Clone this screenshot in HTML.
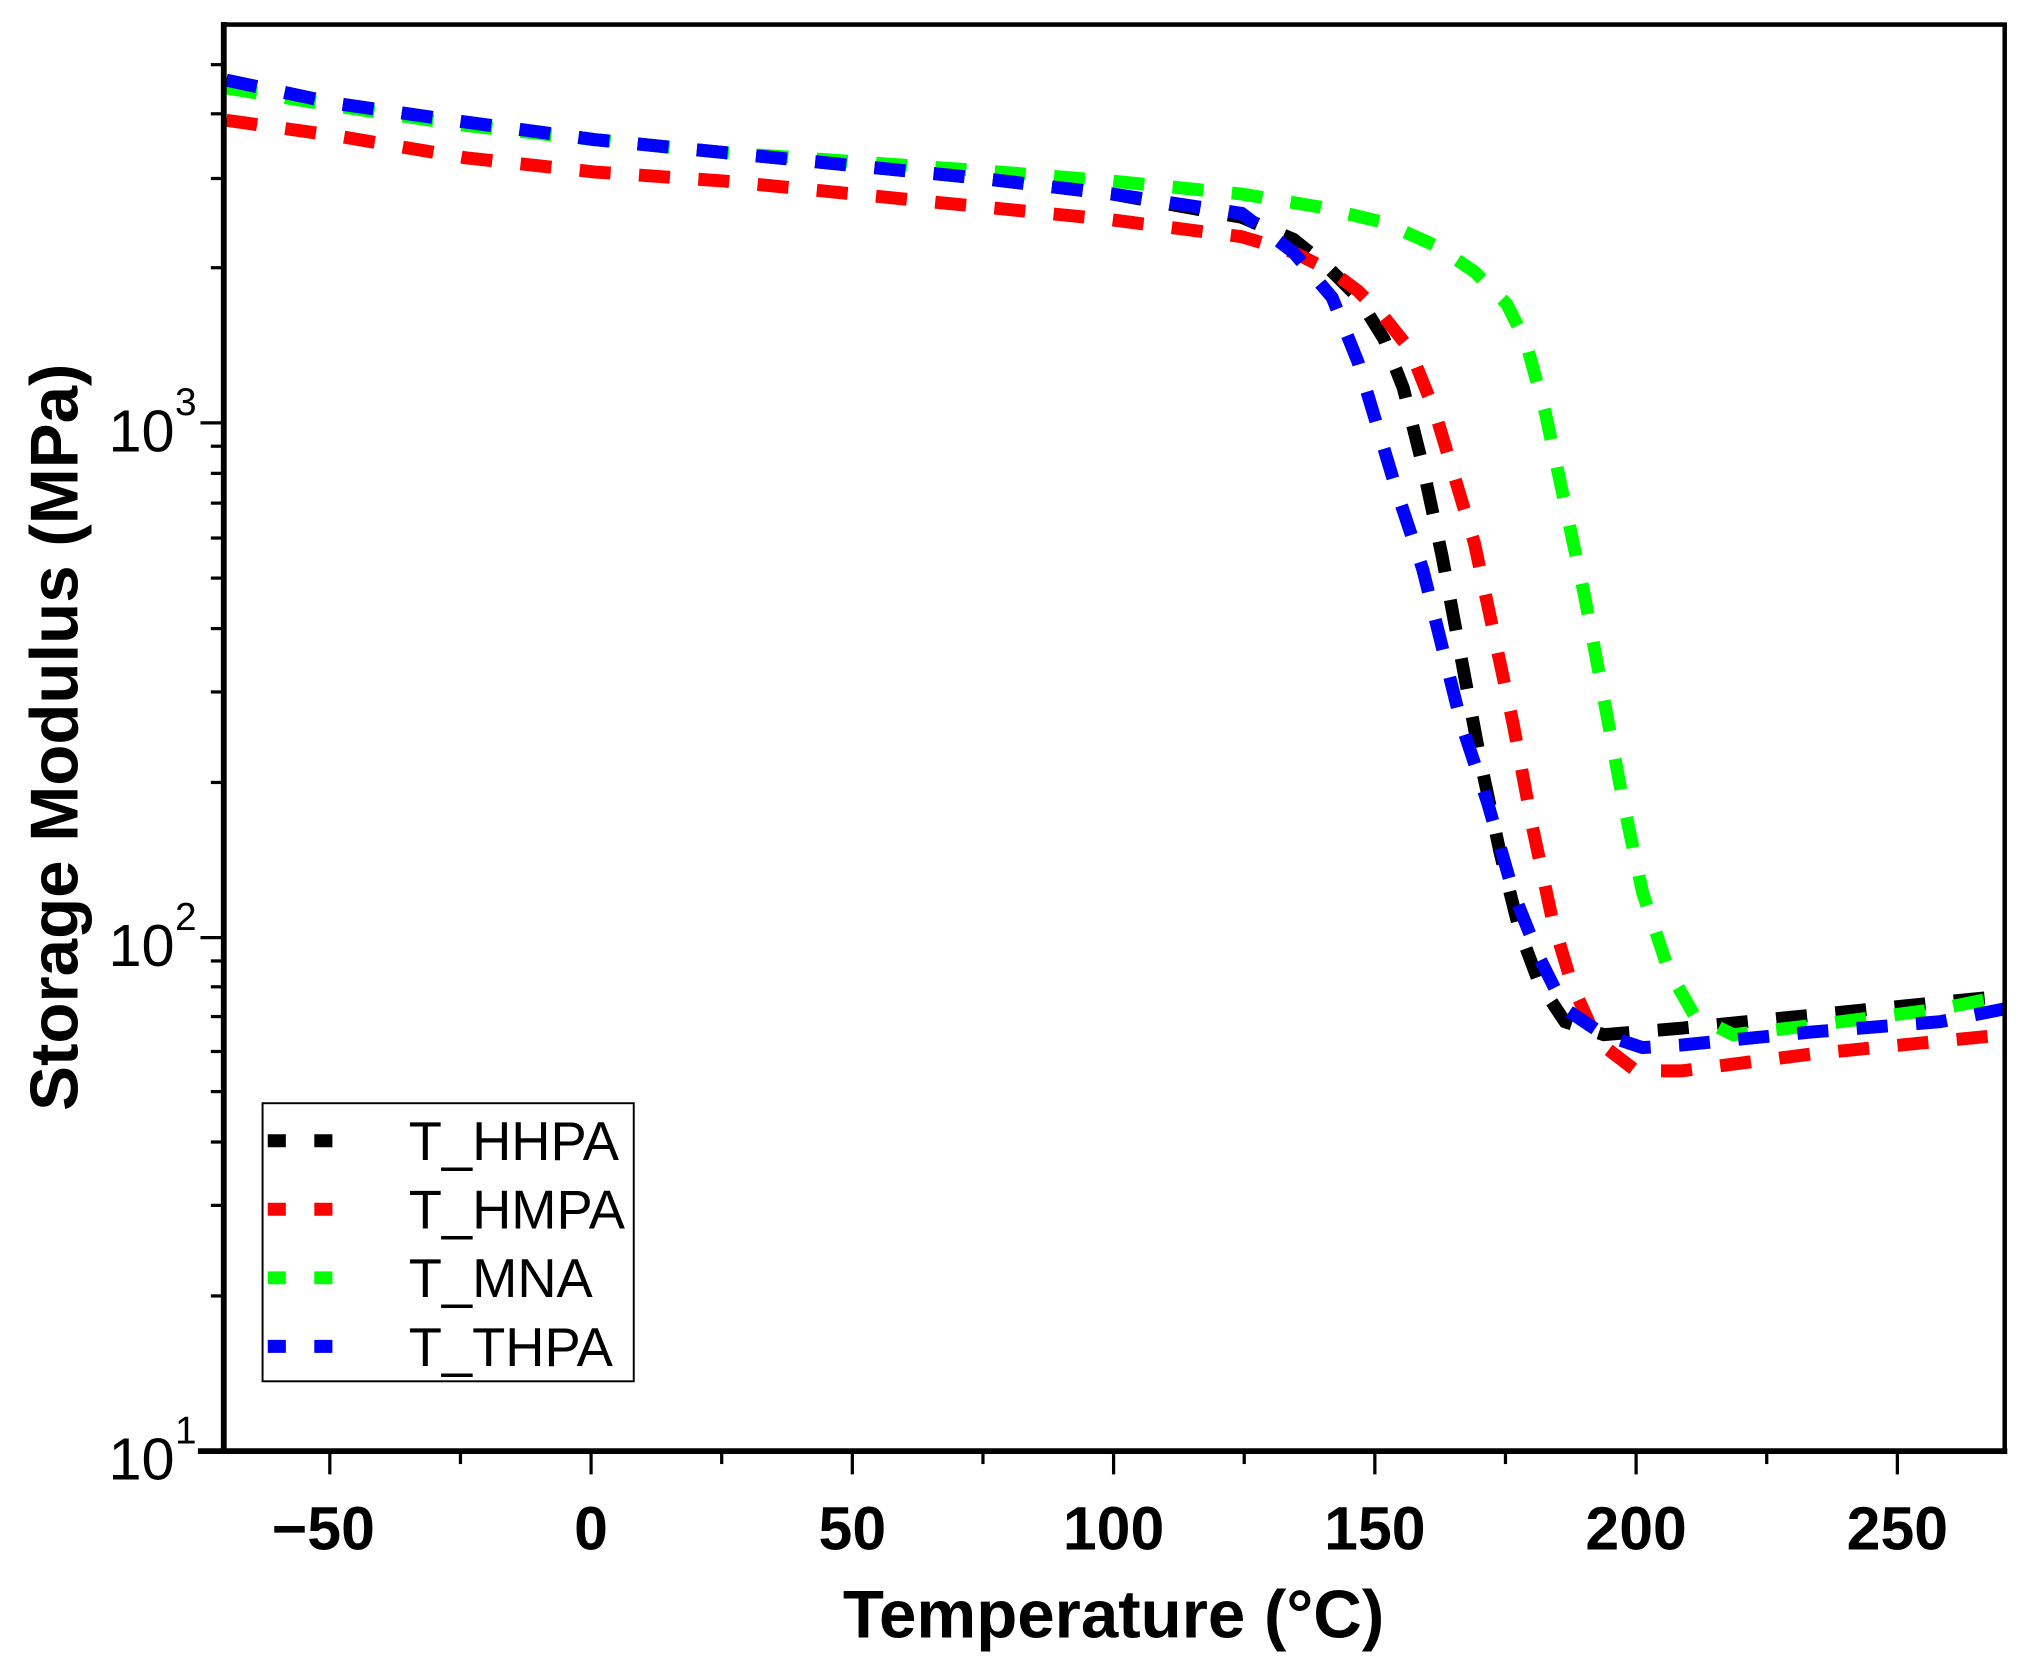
<!DOCTYPE html>
<html><head><meta charset="utf-8"><style>html,body{margin:0;padding:0;background:#fff}svg{display:block}</style></head>
<body>
<svg width="2028" height="1671" viewBox="0 0 1568 1292" xmlns="http://www.w3.org/2000/svg" font-family="Liberation Sans, Arial, sans-serif">
<rect width="1568" height="1292" fill="#fff"/>
<g fill="none" stroke-width="10" stroke-dasharray="24 22">
<polyline stroke="#000" points="175,62 260,80 350,93 460,108 560,118 660,128 760,138 860,150 960,168 1000,185 1025,205 1050,230 1070,262 1085,300 1100,360 1115,430 1130,510 1145,590 1160,660 1175,720 1190,760 1210,790 1240,800 1300,795 1400,785 1500,775 1550,770"/>
<polyline stroke="#f00" points="175,93 260,105 360,122 460,133 560,140 660,150 760,160 860,170 960,183 1000,195 1030,210 1050,225 1070,245 1090,270 1110,320 1125,370 1140,420 1155,490 1170,560 1185,640 1200,710 1215,760 1235,805 1265,828 1300,828 1400,815 1500,805 1550,800"/>
<polyline stroke="#0f0" points="175,68 260,82 360,97 460,108 560,118 660,125 760,132 860,140 960,150 1020,160 1070,172 1110,190 1140,210 1165,235 1180,265 1195,320 1210,390 1225,460 1240,540 1255,620 1270,690 1290,750 1310,785 1340,800 1400,793 1500,780 1550,770"/>
<polyline stroke="#00f" points="175,62 260,80 350,93 460,108 560,118 660,128 760,138 860,150 960,165 1000,195 1030,230 1050,280 1065,330 1080,380 1100,440 1115,500 1130,560 1150,620 1170,690 1190,740 1210,780 1240,800 1270,810 1300,808 1400,798 1500,790 1550,780"/>
</g>
<rect x="173" y="19" width="1377" height="1103" fill="none" stroke="#000" stroke-width="3.5"/>
<line x1="173" y1="17" x2="173" y2="1124" stroke="#000" stroke-width="4.5"/>
<line x1="153" y1="1122" x2="1552" y2="1122" stroke="#000" stroke-width="4.5"/>
<g stroke="#000" stroke-width="2.5">
<line x1="255" y1="1122" x2="255" y2="1140"/><line x1="457" y1="1122" x2="457" y2="1140"/><line x1="659" y1="1122" x2="659" y2="1140"/><line x1="861" y1="1122" x2="861" y2="1140"/><line x1="1063" y1="1122" x2="1063" y2="1140"/><line x1="1265" y1="1122" x2="1265" y2="1140"/><line x1="1467" y1="1122" x2="1467" y2="1140"/>
<line x1="356" y1="1122" x2="356" y2="1132"/><line x1="558" y1="1122" x2="558" y2="1132"/><line x1="760" y1="1122" x2="760" y2="1132"/><line x1="962" y1="1122" x2="962" y2="1132"/><line x1="1164" y1="1122" x2="1164" y2="1132"/><line x1="1366" y1="1122" x2="1366" y2="1132"/>
<line x1="155" y1="1122" x2="173" y2="1122"/><line x1="155" y1="725" x2="173" y2="725"/><line x1="155" y1="327" x2="173" y2="327"/>
<line x1="163" y1="1002" x2="173" y2="1002"/><line x1="163" y1="932" x2="173" y2="932"/><line x1="163" y1="883" x2="173" y2="883"/><line x1="163" y1="844" x2="173" y2="844"/><line x1="163" y1="813" x2="173" y2="813"/><line x1="163" y1="786" x2="173" y2="786"/><line x1="163" y1="763" x2="173" y2="763"/><line x1="163" y1="743" x2="173" y2="743"/>
<line x1="163" y1="605" x2="173" y2="605"/><line x1="163" y1="535" x2="173" y2="535"/><line x1="163" y1="486" x2="173" y2="486"/><line x1="163" y1="447" x2="173" y2="447"/><line x1="163" y1="416" x2="173" y2="416"/><line x1="163" y1="389" x2="173" y2="389"/><line x1="163" y1="366" x2="173" y2="366"/><line x1="163" y1="345" x2="173" y2="345"/>
<line x1="163" y1="207" x2="173" y2="207"/><line x1="163" y1="138" x2="173" y2="138"/><line x1="163" y1="88" x2="173" y2="88"/><line x1="163" y1="50" x2="173" y2="50"/>
</g>
<g font-size="47" font-weight="bold" text-anchor="middle" fill="#000">
<text x="250" y="1198">−50</text><text x="457" y="1198">0</text><text x="659" y="1198">50</text><text x="861" y="1198">100</text><text x="1063" y="1198">150</text><text x="1265" y="1198">200</text><text x="1467" y="1198">250</text>
</g>
<g font-size="46" fill="#000" text-anchor="end">
<text x="135" y="1144">10</text><text x="152" y="1116" font-size="30">1</text>
<text x="135" y="747">10</text><text x="152" y="719" font-size="30">2</text>
<text x="135" y="349">10</text><text x="152" y="321" font-size="30">3</text>
</g>
<text x="861" y="1266" font-size="52" font-weight="bold" text-anchor="middle">Temperature (°C)</text>
<text transform="translate(60,570) rotate(-90)" font-size="52" font-weight="bold" text-anchor="middle">Storage Modulus (MPa)</text>
<rect x="203" y="853" width="287" height="215" fill="#fff" stroke="#000" stroke-width="1.5"/>
<g stroke-width="10" stroke-dasharray="14 22">
<line x1="207" y1="882" x2="275" y2="882" stroke="#000"/>
<line x1="207" y1="935" x2="275" y2="935" stroke="#f00"/>
<line x1="207" y1="988" x2="275" y2="988" stroke="#0f0"/>
<line x1="207" y1="1041" x2="275" y2="1041" stroke="#00f"/>
</g>
<g font-size="42" fill="#000">
<text x="316" y="897">T_HHPA</text><text x="316" y="950">T_HMPA</text><text x="316" y="1003">T_MNA</text><text x="316" y="1056">T_THPA</text>
</g>
</svg>
</body></html>
